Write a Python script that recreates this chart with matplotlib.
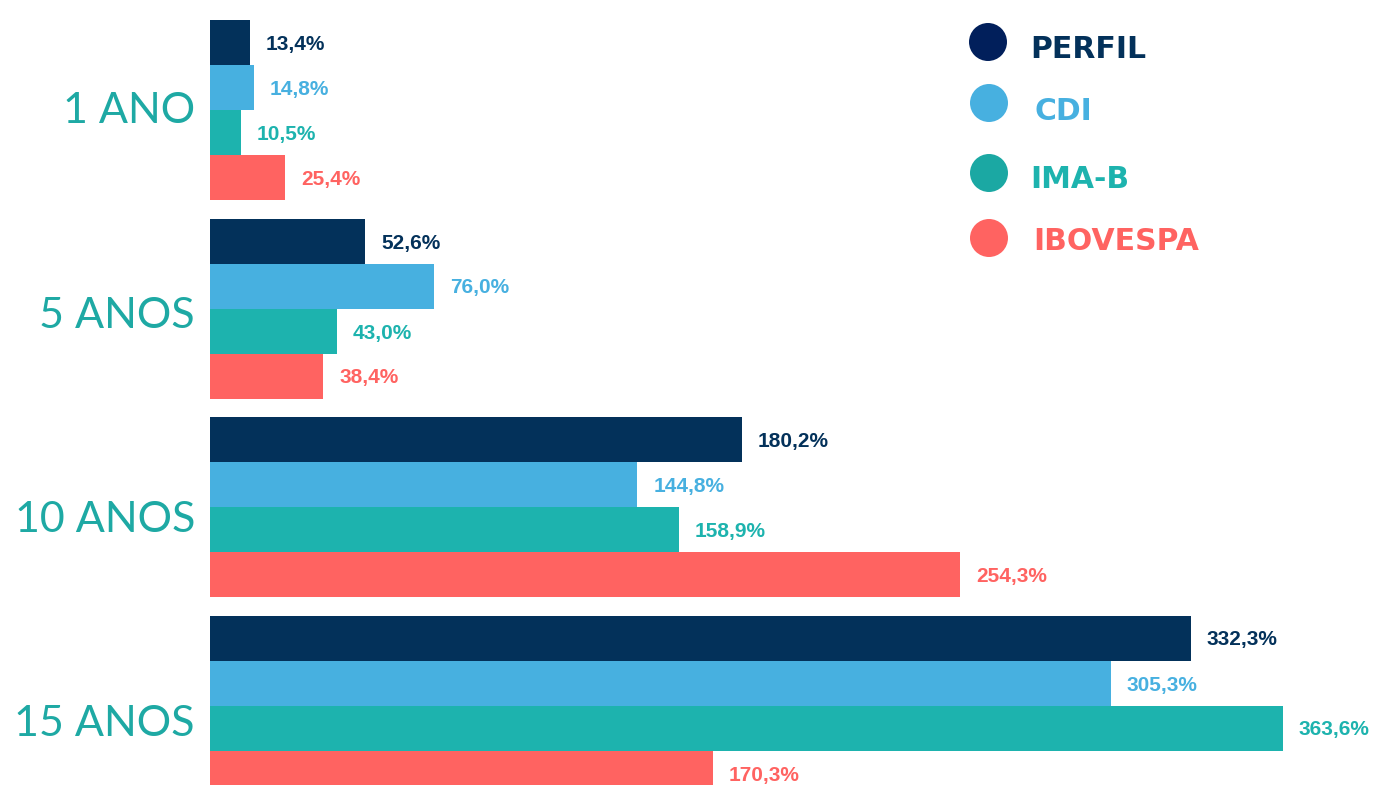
import matplotlib
matplotlib.use("Agg")
import matplotlib.pyplot as plt
from matplotlib.patches import Ellipse

categories = ["1 ANO", "5 ANOS", "10 ANOS", "15 ANOS"]
series = ["PERFIL", "CDI", "IMA-B", "IBOVESPA"]
perfil = [13.4, 52.6, 180.2, 332.3]
cdi = [14.8, 76.0, 144.8, 305.3]
imab = [10.5, 43.0, 158.9, 363.6]
ibov = [25.4, 38.4, 254.3, 170.3]
values = [perfil, cdi, imab, ibov]

bar_colors = ["#03315a", "#47b0e0", "#1db3ae", "#ff6361"]
legend_dot_colors = ["#011f5b", "#47b0e0", "#1ba8a3", "#ff6361"]
label_color = "#1ea9a4"

W, H = 1394, 785
fig = plt.figure(figsize=(W / 100, H / 100), dpi=100)
ax = fig.add_axes([0, 0, 1, 1])
pxu = 2.951  # pixels per percentage point
x0 = 210
ax.set_xlim(-x0 / pxu, (W - x0) / pxu)
ax.set_ylim(H, 0)
ax.axis("off")

bar_h = 45
grp_start = 20
grp_step = 198.5

def fmt(v):
    return f"{v:.1f}%".replace(".", ",")

for g, cat in enumerate(categories):
    base = grp_start + g * grp_step
    for k in range(4):
        yc = base + bar_h * k + bar_h / 2
        v = values[k][g]
        ax.barh(yc, v, height=bar_h, color=bar_colors[k], left=0, linewidth=0)
        ax.text(v + 16 / pxu, yc + 2, fmt(v), color=bar_colors[k], fontsize=15,
                fontweight="bold", family="Liberation Sans", va="center", ha="left")
    ax.text(-15 / pxu, base + 2 * bar_h + 1 + 6 * g, cat, color=label_color, fontsize=31,
            family="Lato", fontweight="normal", va="center", ha="right")

# legend
dot_x = [988, 989, 989, 989]
dot_y = [42, 103, 173, 238]
txt_x = [1030, 1035, 1030, 1033]
txt_y = [49, 112, 179, 241]
for i, name in enumerate(series):
    e = Ellipse((dot_x[i] / W, 1 - dot_y[i] / H), 38 / W, 38 / H,
                transform=fig.transFigure, color=legend_dot_colors[i], linewidth=0)
    fig.add_artist(e)
    fig.text(txt_x[i] / W, 1 - txt_y[i] / H, name, color=bar_colors[i], fontsize=21.5,
             fontweight="bold", family="DejaVu Sans", va="center", ha="left")

fig.savefig("out.png", dpi=100, facecolor="white")
